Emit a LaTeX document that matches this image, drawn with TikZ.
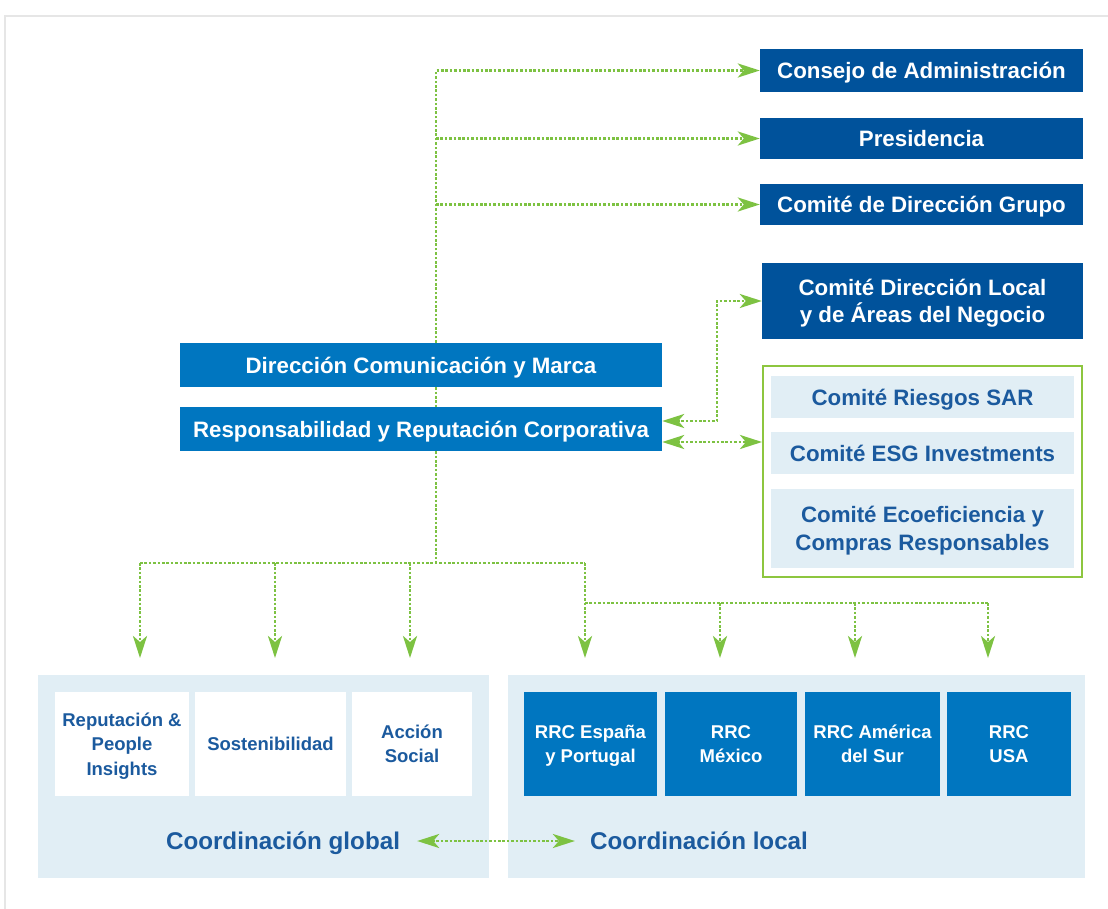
\documentclass[tikz,border=0pt]{standalone}
\usepackage{fontspec}
\setmainfont{Liberation Sans}
\usetikzlibrary{arrows.meta,calc}
\definecolor{dblue}{HTML}{00529B}
\definecolor{mblue}{HTML}{0076C0}
\definecolor{lblue}{HTML}{E1EEF5}
\definecolor{tblue}{HTML}{1B5A9E}
\definecolor{lgreen}{HTML}{7DC242}
\definecolor{fgreen}{HTML}{8DC63F}
\definecolor{framegrey}{HTML}{E6E6E6}
\begin{document}
\begin{tikzpicture}[x=1pt,y=-1pt,
  >={Stealth[length=22pt,width=14pt,inset=6pt]},
  box/.style={draw=none,inner sep=0pt,align=center,font=\bfseries\fontsize{22.3}{28}\selectfont},
  oneline/.style={text height=16pt,text depth=0pt},
  twoline/.style={text height=44pt,text depth=0pt},
  darkbox/.style={box,fill=dblue,text=white},
  midbox/.style={box,fill=mblue,text=white},
  lightbox/.style={box,fill=lblue,text=tblue},
  smallbox/.style={box,font=\bfseries\fontsize{18.5}{24.5}\selectfont,minimum height=104pt},
  sone/.style={text height=13.3pt,text depth=0pt},
  stwo/.style={text height=37.8pt,text depth=0pt},
  sthree/.style={text height=62.3pt,text depth=0pt},
  smallwhite/.style={smallbox,fill=white,text=tblue},
  smallblue/.style={smallbox,fill=mblue,text=white},
  panel/.style={fill=lblue,draw=none,inner sep=0pt},
  coordlabel/.style={text=tblue,font=\bfseries\fontsize{24.2}{28}\selectfont,inner sep=0pt,text height=17.3pt,text depth=0pt},
  link/.style={draw=lgreen,line width=2.8pt,dash pattern=on 2.6pt off 1.8pt}
]
\useasboundingbox (0,0) rectangle (1108,909);
\fill[white] (0,0) rectangle (1108,909);
\draw[framegrey,line width=2.5pt] (5,909) -- (5,16) -- (1108,16);

% top right boxes
\node[darkbox,oneline,minimum width=323pt,minimum height=43pt] (cons) at (921.5,70.5) {Consejo de Administración};
\node[darkbox,oneline,minimum width=323pt,minimum height=41pt] (pres) at (921.5,138.5) {Presidencia};
\node[darkbox,oneline,minimum width=323pt,minimum height=41pt] (grupo) at (921.5,204.5) {Comité de Dirección Grupo};
\node[darkbox,twoline,minimum width=321pt,minimum height=76pt] (local) at (922.5,301) {Comité Dirección Local\\y de Áreas del Negocio};

% committees frame
\node[draw=fgreen,line width=2pt,minimum width=319pt,minimum height=211pt,inner sep=0pt] (comites) at (922.5,471.5) {};
\node[lightbox,oneline,minimum width=303pt,minimum height=42pt] (sar) at (922.5,397) {Comité Riesgos SAR};
\node[lightbox,oneline,minimum width=303pt,minimum height=42pt] (esg) at (922.5,453) {Comité ESG Investments};
\node[lightbox,twoline,minimum width=303pt,minimum height=79pt] (eco) at (922.5,528.5) {Comité Ecoeficiencia y\\Compras Responsables};

% central boxes
\node[midbox,oneline,minimum width=482pt,minimum height=44pt] (dir) at (421,365) {Dirección Comunicación y Marca};
\node[midbox,oneline,minimum width=482pt,minimum height=44pt] (resp) at (421,429) {Responsabilidad y Reputación Corporativa};

% bottom panels
\node[panel,minimum width=451pt,minimum height=203pt] (pglobal) at (263.5,776.5) {};
\node[panel,minimum width=577pt,minimum height=203pt] (plocal) at (796.5,776.5) {};

\node[smallwhite,sthree,minimum width=134pt] (rep) at (122,744) {Reputación \&\\People\\Insights};
\node[smallwhite,sone,minimum width=151pt] (sost) at (270.5,744) {Sostenibilidad};
\node[smallwhite,stwo,minimum width=120pt] (accion) at (412,744) {Acción\\Social};

\node[smallblue,stwo,minimum width=133pt] (esp) at (590.5,744) {RRC España\\y Portugal};
\node[smallblue,stwo,minimum width=132pt] (mex) at (731,744) {RRC\\México};
\node[smallblue,stwo,minimum width=135pt] (ams) at (872.5,744) {RRC América\\del Sur};
\node[smallblue,stwo,minimum width=124pt] (usa) at (1009,744) {RRC\\USA};

\node[coordlabel] (cglobal) at (283,841) {Coordinación global};
\node[coordlabel] (clocal) at (699,841) {Coordinación local};

% connectors
\coordinate (tx) at (436,0);
\coordinate (kx) at (717,0);
\coordinate (r1) at (0,421);
\coordinate (r2) at (0,442);
\coordinate (hb) at (0,563);
\coordinate (hb2) at (0,603);
\coordinate (a1) at (140,658);
\coordinate (a2) at (275,658);
\coordinate (a3) at (410,658);
\coordinate (a4) at (585,658);
\coordinate (a5) at (720,658);
\coordinate (a6) at (855,658);
\coordinate (a7) at (988,658);

\draw[link,->] (dir.north -| tx) |- (cons.west);
\draw[link,->] (tx |- pres.west) -- (pres.west);
\draw[link,->] (tx |- grupo.west) -- (grupo.west);
\draw[link] (dir.south -| tx) -- (resp.north -| tx);

\draw[link,<->] (resp.east |- r1) -| (kx |- local.west) -- (local.west);
\draw[link,<->] (resp.east |- r2) -- (comites.west |- r2);

\draw[link] (resp.south -| tx) -- (tx |- hb);
\draw[link] (a1 |- hb) -- (a4 |- hb);
\draw[link,->] (a1 |- hb) -- (a1);
\draw[link,->] (a2 |- hb) -- (a2);
\draw[link,->] (a3 |- hb) -- (a3);
\draw[link,->] (a4 |- hb) -- (a4);
\draw[link] (a4 |- hb2) -- (a7 |- hb2);
\draw[link,->] (a5 |- hb2) -- (a5);
\draw[link,->] (a6 |- hb2) -- (a6);
\draw[link,->] (a7 |- hb2) -- (a7);

\draw[link,<->] ([xshift=17pt]cglobal.east) -- ([xshift=-15pt]clocal.west);
\end{tikzpicture}
\end{document}
